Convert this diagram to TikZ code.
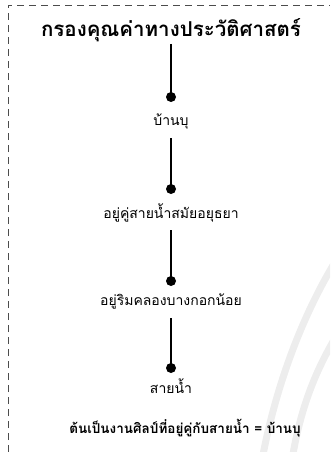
\documentclass[tikz,border=0pt]{standalone}
\usepackage{fontspec}
\newfontfamily\thai[Script=Thai]{Loma}
\begin{document}
\begin{tikzpicture}[x=1pt,y=1pt,
  dot/.style={circle,fill=black,inner sep=0pt,minimum size=10pt},
  lbl/.style={font=\thai\fontsize{14}{16}\selectfont,inner sep=1pt},
  conn/.style={line width=1.3pt}]
\useasboundingbox (0,0) rectangle (330,-452);
% watermark arcs
\begin{scope}
\clip (0,0) rectangle (330,-452);
\draw[black!7,line width=7pt] (335,-262) .. controls (300,-320) and (275,-390) .. (262,-460);
\draw[black!7,line width=7pt] (340,-330) .. controls (315,-370) and (300,-410) .. (292,-460);
\end{scope}
\draw[black!70,dashed,dash pattern=on 7pt off 5pt,line width=0.7pt] (8,-452) -- (8,-5) -- (330,-5);
\node[font=\thai\bfseries\fontsize{20.5}{24}\selectfont,inner sep=1pt] (title) at (171,-30) {กรองคุณค่าทางประวัติศาสตร์};
\node[dot] (d1) at (171,-97) {};
\node[lbl] (l1) at (171,-121) {บ้านบุ};
\node[dot] (d2) at (171,-189) {};
\node[lbl] (l2) at (171,-213) {อยู่คู่สายน้ำสมัยอยุธยา};
\node[dot] (d3) at (171,-281) {};
\node[lbl] (l3) at (171,-301) {อยู่ริมคลองบางกอกน้อย};
\node[dot] (d4) at (171,-368) {};
\node[lbl] (l4) at (171,-386) {สายน้ำ};
\node[font=\thai\bfseries\fontsize{13.5}{16}\selectfont,inner sep=1pt] (bottom) at (185,-428) {ต้นเป็นงานศิลป์ที่อยู่คู่กับสายน้ำ = บ้านบุ};
\draw[conn] (title.south |- 0,-44) -- (d1.center);
\draw[conn] (l1.south |- 0,-138) -- (d2.center);
\draw[conn] (l2.south |- 0,-230) -- (d3.center);
\draw[conn] (l3.south |- 0,-318) -- (d4.center);
\end{tikzpicture}
\end{document}
